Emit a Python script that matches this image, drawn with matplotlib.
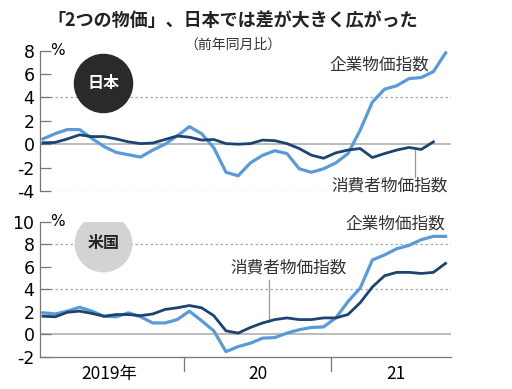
import matplotlib.pyplot as plt
import numpy as np

plt.rcParams['font.family'] = ['Noto Sans CJK JP', 'DejaVu Sans']

# months from Jan 2019
jp_cgpi = [0.45, 0.9, 1.25, 1.25, 0.5, -0.2, -0.7, -0.9, -1.1, -0.5, 0.0, 0.7,
           1.5, 0.9, -0.3, -2.4, -2.7, -1.6, -0.95, -0.56, -0.8, -2.1, -2.4, -2.1,
           -1.6, -0.8, 1.2, 3.6, 4.7, 5.0, 5.6, 5.7, 6.2, 7.8]
jp_cpi = [0.12, 0.15, 0.45, 0.8, 0.65, 0.65, 0.45, 0.2, 0.05, 0.1, 0.4, 0.7,
          0.6, 0.35, 0.4, 0.05, 0.0, 0.05, 0.35, 0.3, 0.05, -0.37, -0.94, -1.2,
          -0.74, -0.5, -0.37, -1.14, -0.8, -0.5, -0.28, -0.45, 0.2]
us_ppi = [1.9, 1.8, 2.05, 2.4, 2.05, 1.6, 1.55, 1.9, 1.55, 1.0, 1.0, 1.3,
          2.05, 1.2, 0.3, -1.55, -1.1, -0.8, -0.35, -0.3, 0.1, 0.4, 0.6, 0.65,
          1.45, 2.9, 4.1, 6.6, 7.05, 7.6, 7.9, 8.4, 8.7, 8.7]
us_cpi = [1.6, 1.55, 1.95, 2.05, 1.85, 1.6, 1.75, 1.75, 1.65, 1.8, 2.2, 2.35,
          2.55, 2.35, 1.65, 0.3, 0.1, 0.6, 1.0, 1.3, 1.45, 1.3, 1.3, 1.45,
          1.45, 1.75, 2.8, 4.2, 5.2, 5.5, 5.5, 5.4, 5.5, 6.3]
year_labels = ['2019年', '20', '21']

LIGHT = '#5b9bd5'
DARK = '#1d4470'
GRID = '#a8a8a8'
num_font = 'Liberation Sans Narrow'

fig = plt.figure(figsize=(5.12, 3.89), dpi=100)
ax1 = fig.add_axes([0.078, 0.509, 0.803, 0.361])
ax2 = fig.add_axes([0.078, 0.083, 0.803, 0.347])


def style(ax, lo, hi, ticks, dotted):
    ax.set_xlim(-0.25, 33.45)
    ax.set_ylim(lo, hi)
    for s in ['top', 'right', 'bottom']:
        ax.spines[s].set_visible(False)
    ax.spines['left'].set_color('#777777')
    ax.spines['left'].set_linewidth(0.9)
    ax.set_xticks([])
    ax.set_yticks(ticks)
    ax.set_yticklabels(['%d' % t for t in ticks], family=num_font, fontsize=12.5)
    ax.tick_params(axis='y', direction='in', length=8, width=0.9, color='#777777', pad=4)
    for d in dotted:
        ax.axhline(d, color=GRID, lw=0.9, ls=(0, (2, 2)), zorder=1)
    ax.axhline(0, color=GRID, lw=1.1, zorder=1)
    ax.text(0.6, hi, '%', fontsize=11, va='center', ha='left', family=num_font)


style(ax1, -4, 8, [-4, -2, 0, 2, 4, 6, 8], [4, -4])
style(ax2, -2, 10, [-2, 0, 2, 4, 6, 8, 10], [4, 8])
ax2.spines['bottom'].set_visible(True)
ax2.spines['bottom'].set_color('#777777')
ax2.spines['bottom'].set_linewidth(0.9)

ax1.plot(np.arange(len(jp_cgpi)), jp_cgpi, color=LIGHT, lw=2.3, zorder=3)
ax1.plot(np.arange(len(jp_cpi)), jp_cpi, color=DARK, lw=2.0, zorder=4)
ax2.plot(np.arange(len(us_ppi)), us_ppi, color=LIGHT, lw=2.3, zorder=3)
ax2.plot(np.arange(len(us_cpi)), us_cpi, color=DARK, lw=2.0, zorder=4)

# year separators and labels
for x in [11.55, 23.6]:
    ax2.plot([x, x], [-2, -3.3], color='#777777', lw=0.9, clip_on=False)
for x, lab in zip([5.4, 17.6, 28.9], year_labels):
    ax2.text(x, -3.5, lab, ha='center', va='center', fontsize=12.5,
             family=[num_font, 'Noto Sans CJK JP'])

# country badges
ax1.scatter([4.95], [5.2], s=1750, color='#2a2a2a', zorder=5)
ax1.text(4.95, 5.2, '日本', color='white', fontsize=11.5, fontweight='bold',
         ha='center', va='center', zorder=6)
ax2.scatter([4.95], [8.1], s=1650, color='#d3d3d3', zorder=5)
ax2.text(4.95, 8.1, '米国', color='#222222', fontsize=11.5, fontweight='bold',
         ha='center', va='center', zorder=6)

# annotations
ax1.text(27.6, 6.8, '企業物価指数', fontsize=12, ha='center', va='center', color='#333333')
ax1.text(28.4, -3.6, '消費者物価指数', fontsize=12, ha='center', va='center', color='#333333')
ax1.plot([30.5, 30.5], [-0.45, -2.8], color='#999999', lw=0.9)
ax2.text(28.9, 9.75, '企業物価指数', fontsize=12, ha='center', va='center', color='#333333')
ax2.text(20.1, 5.9, '消費者物価指数', fontsize=12, ha='center', va='center', color='#333333')
ax2.plot([18.5, 18.5], [1.1, 4.8], color='#999999', lw=0.9)

fig.text(0.455, 0.948, '「2つの物価」、日本では差が大きく広がった', fontsize=13,
         fontweight='bold', ha='center', va='center', color='#222222')
fig.text(0.455, 0.884, '（前年同月比）', fontsize=10, ha='center', va='center', color='#333333')

fig.savefig('out.png', dpi=100)
